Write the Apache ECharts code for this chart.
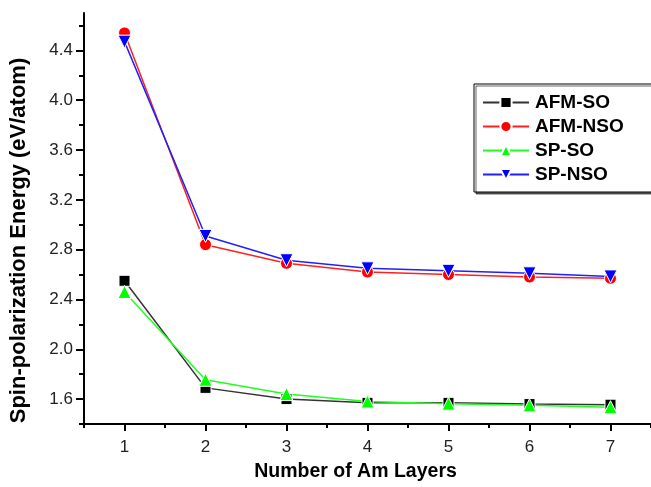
<!DOCTYPE html>
<html>
<head>
<meta charset="utf-8">
<script src="https://cdn.jsdelivr.net/npm/echarts@6/dist/echarts.min.js"></script>
<style>
html,body{margin:0;padding:0;background:#fff;}
#chart{width:651px;height:487px;}
</style>
</head>
<body>
<div id="chart"></div>
<script>
var layers = [1, 2, 3, 4, 5, 6, 7];
var afmSO  = [2.55, 1.69, 1.60, 1.57, 1.57, 1.56, 1.555];
var afmNSO = [4.54, 2.84, 2.69, 2.62, 2.60, 2.58, 2.57];
var spSO   = [2.46, 1.755, 1.64, 1.58, 1.563, 1.55, 1.535];
var spNSO  = [4.47, 2.91, 2.715, 2.65, 2.63, 2.61, 2.585];
var yMajor = [1.6, 2.0, 2.4, 2.8, 3.2, 3.6, 4.0, 4.4];
var yMinor = [1.4, 1.8, 2.2, 2.6, 3.0, 3.4, 3.8, 4.2, 4.6];
var xMajor = [1, 2, 3, 4, 5, 6, 7];
var xMinor = [0.5, 1.5, 2.5, 3.5, 4.5, 5.5, 6.5, 7.5];

function pairs(vals) { return layers.map(function (x, i) { return [x, vals[i]]; }); }

var font = '"Liberation Sans", Arial, sans-serif';
var chart = echarts.init(document.getElementById('chart'));

function mkSeries(name, vals, color, lineColor, symbol, size) {
  return {
    name: name, type: 'line', data: pairs(vals),
    xAxisIndex: 0, yAxisIndex: 0,
    symbol: symbol, symbolSize: size,
    lineStyle: { color: lineColor, width: 1.5 },
    itemStyle: { color: color, borderColor: '#fff', borderWidth: 1 },
    emphasis: { disabled: true },
    animation: false
  };
}

chart.setOption({
  animation: false,
  grid: { left: 77, right: -25, top: 13, bottom: 53, containLabel: false },
  legend: {
    orient: 'vertical',
    left: 474, top: 84,
    padding: [9, 30, 8, 8],
    itemWidth: 46, itemHeight: 14, itemGap: 5,
    borderColor: '#000', borderWidth: 1,
    backgroundColor: '#fff',
    shadowColor: 'rgba(0,0,0,0.6)', shadowOffsetX: 2, shadowOffsetY: 2, shadowBlur: 0,
    textStyle: { fontFamily: font, fontWeight: 'bold', fontSize: 19, color: '#000', padding: [0, 0, 0, 1] },
    data: ['AFM-SO', 'AFM-NSO', 'SP-SO', 'SP-NSO']
  },
  xAxis: [{
    type: 'value', min: 0.5, max: 7.5,
    name: 'Number of Am Layers', nameLocation: 'middle', nameGap: 38,
    nameTextStyle: { fontFamily: font, fontWeight: 'bold', fontSize: 19.5, color: '#000', padding: [0, 24, 0, 0] },
    axisLine: { show: true, onZero: false, lineStyle: { color: '#000', width: 2 } },
    axisTick: { show: true, customValues: xMajor, length: 7, lineStyle: { color: '#000', width: 2 } },
    axisLabel: { customValues: xMajor, margin: 15, fontFamily: font, fontSize: 17, color: '#222' },
    splitLine: { show: false }
  }, {
    type: 'value', min: 0.5, max: 7.5, position: 'bottom',
    axisLine: { show: false },
    axisTick: { show: true, customValues: xMinor, length: 4, lineStyle: { color: '#000', width: 2 } },
    axisLabel: { show: false },
    splitLine: { show: false }
  }],
  yAxis: [{
    type: 'value', min: 1.4, max: 4.7,
    name: 'Spin-polarization Energy (eV/atom)', nameLocation: 'middle', nameGap: 54,
    nameTextStyle: { fontFamily: font, fontWeight: 'bold', fontSize: 22, color: '#000', padding: [0, 44, 0, 0] },
    axisLine: { show: true, onZero: false, lineStyle: { color: '#000', width: 2 } },
    axisTick: { show: true, customValues: yMajor, length: 8, lineStyle: { color: '#000', width: 2 } },
    axisLabel: { customValues: yMajor, margin: 11, fontFamily: font, fontSize: 17, color: '#222',
      formatter: function (v) { return v.toFixed(1); } },
    splitLine: { show: false }
  }, {
    type: 'value', min: 1.4, max: 4.7, position: 'left',
    axisLine: { show: false },
    axisTick: { show: true, customValues: yMinor, length: 5, lineStyle: { color: '#000', width: 2 } },
    axisLabel: { show: false },
    splitLine: { show: false }
  }],
  series: [
    mkSeries('AFM-SO', afmSO, '#000000', '#333333', 'rect', 11),
    mkSeries('AFM-NSO', afmNSO, '#ff0000', '#ff2020', 'circle', 12),
    mkSeries('SP-SO', spSO, '#00ff00', '#20ff20', 'triangle', 13),
    mkSeries('SP-NSO', spNSO, '#0000ff', '#2020ff', 'path://M0,0 L10,0 L5,9 Z', 13)
  ]
});
</script>
</body>
</html>
